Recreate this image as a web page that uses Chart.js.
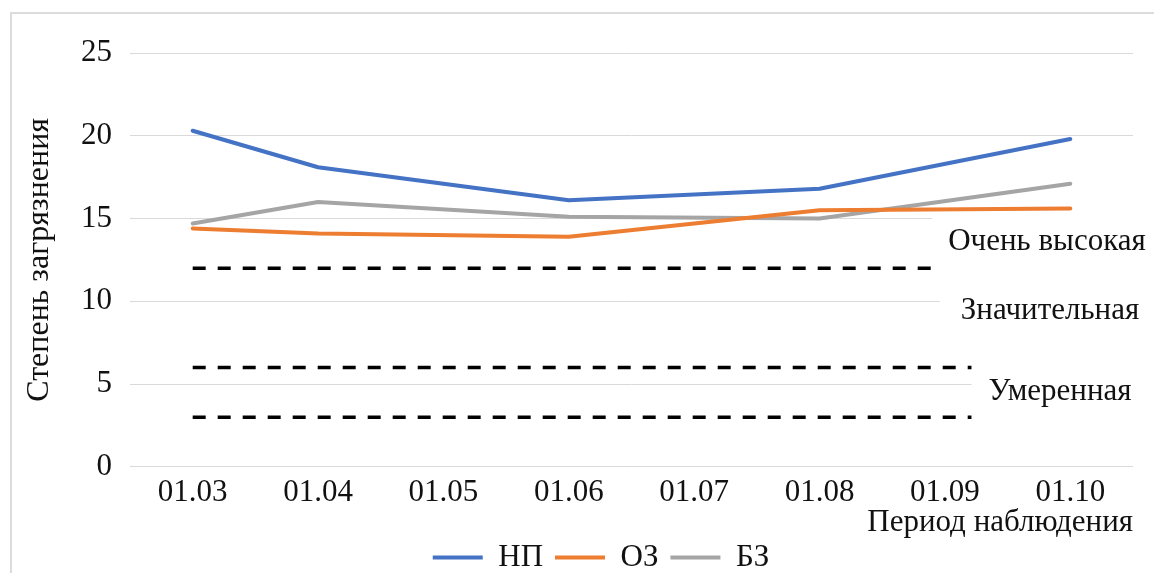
<!DOCTYPE html>
<html lang="ru">
<head>
<meta charset="utf-8">
<title>Степень загрязнения</title>
<script src="https://cdn.jsdelivr.net/npm/chart.js@4/dist/chart.umd.min.js"></script>
<style>
  html, body { margin: 0; padding: 0; background: #fff; }
  #wrap { position: relative; width: 1154px; height: 573px; overflow: hidden; }
  #frame { position: absolute; left: 10px; top: 12px; width: 1200px; height: 600px;
           border-left: 2px solid #dcdcdc; border-top: 2px solid #dcdcdc; }
  #chart { position: absolute; left: 0; top: 0; }
</style>
</head>
<body>
<div id="wrap">
  <div id="frame"></div>
  <canvas id="chart" width="1154" height="573"></canvas>
</div>
<script>
// Данные
const categories = ['01.03', '01.04', '01.05', '01.06', '01.07', '01.08', '01.09', '01.10'];
const seriesNames = ['НП', 'ОЗ', 'БЗ'];
const np = [20.3, 18.1, null, 16.1, null, 16.8, null, 19.8];
const oz = [14.4, 14.1, null, 13.9, null, 15.5, null, 15.6];
const bz = [14.7, 16.0, null, 15.1, null, 15.0, null, 17.1];
const thresholds = [12, 6, 3];
const zoneNames = ['Очень высокая', 'Значительная', 'Умеренная'];
const yTicks = [0, 5, 10, 15, 20, 25];

// Оформление
const FONT = "'Liberation Serif', 'Times New Roman', serif";
const FS = 31;
const colors = ['#4472c4', '#ed7d31', '#a5a5a5'];
const zoneStyle = [ // положение подписей зон: центр по x (px), уровень по оси y, отступ подложки
    { cx: 1047, y: 13.6, pad: 16 },
    { cx: 1050, y: 9.4, pad: 21 },
    { cx: 1060, y: 4.55, pad: 17 }
];

const toPoints = arr => arr.map((v, i) => v === null ? null : { x: i, y: v }).filter(Boolean);

const series = [np, oz, bz].map((arr, k) => ({
    label: seriesNames[k],
    data: toPoints(arr),
    borderColor: colors[k],
    backgroundColor: colors[k],
    borderWidth: 4,
    pointRadius: 0,
    tension: 0,
    borderJoinStyle: 'round',
    borderCapStyle: 'round',
    order: 0
}));

const lastIdx = categories.length - 1;
const limits = thresholds.map(t => ({
    label: 'limit-' + t,
    data: [{ x: 0, y: t }, { x: lastIdx, y: t }],
    borderColor: '#000',
    borderWidth: 3.5,
    borderDash: [13, 12],
    pointRadius: 0,
    order: 10
}));

// Подписи зон на белой подложке: поверх сетки и пунктира, под линиями рядов
let zonesDrawn = false;
const zonesPlugin = {
    id: 'zones',
    beforeDatasetsDraw() { zonesDrawn = false; },
    beforeDatasetDraw(chart, args) {
        if (zonesDrawn || args.meta.order !== 0) return;
        zonesDrawn = true;
        const ctx = chart.ctx;
        const y = chart.scales.y;
        ctx.save();
        ctx.font = FS + 'px ' + FONT;
        ctx.textAlign = 'center';
        ctx.textBaseline = 'middle';
        zoneNames.forEach((name, i) => {
            const s = zoneStyle[i];
            const py = y.getPixelForValue(s.y);
            const w = ctx.measureText(name).width;
            ctx.fillStyle = '#fff';
            ctx.fillRect(s.cx - w / 2 - s.pad, py - 31, w + s.pad * 2, 62);
            ctx.fillStyle = '#111';
            ctx.fillText(name, s.cx, py);
        });
        ctx.restore();
    }
};

new Chart(document.getElementById('chart'), {
    type: 'line',
    data: { datasets: [...series, ...limits] },
    plugins: [zonesPlugin],
    options: {
        responsive: false,
        animation: false,
        devicePixelRatio: 1,
        layout: { padding: { left: 69, right: 21, top: 53, bottom: -10 } },
        plugins: {
            tooltip: { enabled: false },
            legend: {
                position: 'bottom',
                labels: {
                    color: '#111',
                    font: { family: FONT, size: FS, lineHeight: 1.0 },
                    boxWidth: 50,
                    boxHeight: 4,
                    padding: 12,
                    filter: item => item.datasetIndex < seriesNames.length,
                    generateLabels: chart => Chart.defaults.plugins.legend.labels.generateLabels(chart)
                        .map(l => Object.assign(l, { lineWidth: 0 }))
                }
            }
        },
        scales: {
            x: {
                type: 'linear',
                min: -0.5,
                max: lastIdx + 0.5,
                afterBuildTicks: s => { s.ticks = categories.map((_, i) => ({ value: i })); },
                grid: { display: false, drawTicks: false },
                border: { display: false },
                ticks: {
                    color: '#111',
                    font: { family: FONT, size: FS },
                    padding: 7,
                    autoSkip: false,
                    maxRotation: 0,
                    callback: v => categories[v]
                },
                title: {
                    display: true,
                    text: 'Период наблюдения',
                    align: 'end',
                    color: '#111',
                    font: { family: FONT, size: FS, lineHeight: 1.0 },
                    padding: { top: -11, bottom: -8 }
                }
            },
            y: {
                min: yTicks[0],
                max: yTicks[yTicks.length - 1],
                afterBuildTicks: s => { s.ticks = yTicks.map(v => ({ value: v })); },
                grid: { color: '#d9d9d9', lineWidth: 1, drawTicks: false },
                border: { display: false },
                ticks: {
                    color: '#111',
                    font: { family: FONT, size: FS },
                    padding: 18
                },
                title: {
                    display: true,
                    text: 'Степень загрязнения',
                    color: '#111',
                    font: { family: FONT, size: 32, lineHeight: 1.0 },
                    padding: { top: -45, bottom: 7 }
                }
            }
        }
    }
});
</script>
</body>
</html>
